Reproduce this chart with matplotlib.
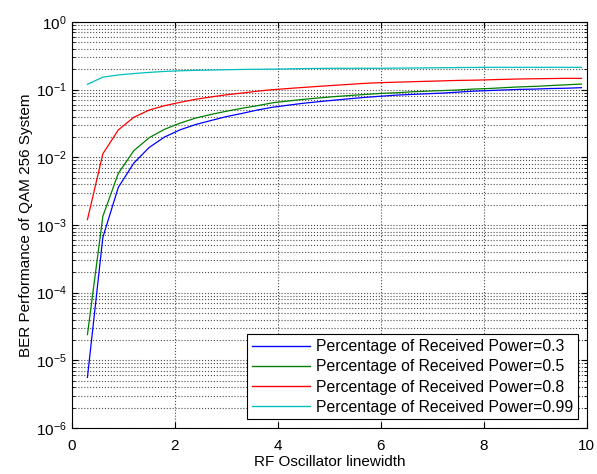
import numpy as np
import matplotlib.pyplot as plt
from matplotlib.ticker import LogLocator, FixedLocator, NullFormatter

plt.rcParams['font.family'] = ['Liberation Sans', 'DejaVu Sans']
plt.rcParams['mathtext.fontset'] = 'custom'
plt.rcParams['mathtext.rm'] = 'Liberation Sans'

# RF oscillator linewidth
linewidth = [0.3, 0.6, 0.9, 1.2, 1.5, 1.8, 2.1, 2.4, 2.7, 3.0, 3.3,
             3.6, 3.9, 4.2, 4.5, 4.8, 5.1, 5.4, 5.7, 6.0, 6.3, 6.6,
             6.9, 7.2, 7.5, 7.8, 8.1, 8.4, 8.7, 9.0, 9.3, 9.6, 9.9]

ber_03 = [5.6e-6, 6.6e-4, 3.6e-3, 8.2e-3, 0.0140, 0.0200, 0.0255, 0.0305, 0.035, 0.040, 0.0445,
          0.050, 0.055, 0.059, 0.063, 0.0665, 0.070, 0.0735, 0.077, 0.080, 0.083, 0.085,
          0.087, 0.089, 0.092, 0.095, 0.097, 0.099, 0.101, 0.102, 0.104, 0.105, 0.107]
ber_05 = [2.4e-5, 1.35e-3, 5.8e-3, 0.0125, 0.0195, 0.026, 0.032, 0.038, 0.043, 0.048, 0.053,
          0.058, 0.064, 0.068, 0.072, 0.0755, 0.079, 0.082, 0.085, 0.088, 0.090, 0.093,
          0.095, 0.097, 0.099, 0.102, 0.104, 0.107, 0.110, 0.112, 0.115, 0.118, 0.121]
ber_08 = [1.2e-3, 0.0113, 0.0254, 0.039, 0.050, 0.058, 0.065, 0.072, 0.078, 0.084, 0.089,
          0.095, 0.100, 0.104, 0.108, 0.112, 0.116, 0.120, 0.124, 0.127, 0.129, 0.131,
          0.133, 0.135, 0.137, 0.138, 0.140, 0.142, 0.144, 0.145, 0.146, 0.147, 0.147]
ber_099 = [0.120, 0.153, 0.165, 0.173, 0.180, 0.186, 0.190, 0.193, 0.195, 0.197, 0.199,
           0.200, 0.201, 0.203, 0.205, 0.206, 0.207, 0.207, 0.207, 0.207, 0.208, 0.209,
           0.210, 0.211, 0.212, 0.213, 0.214, 0.214, 0.214, 0.214, 0.214, 0.214, 0.214]

labels = ['Percentage of Received Power=0.3', 'Percentage of Received Power=0.5',
          'Percentage of Received Power=0.8', 'Percentage of Received Power=0.99']
colors = ['#0000ff', '#008000', '#ff0000', '#00bfbf']
x_ticks = [0, 2, 4, 6, 8, 10]
y_ticks = [1e-6, 1e-5, 1e-4, 1e-3, 1e-2, 1e-1, 1e0]

fig = plt.figure(figsize=(5.97, 4.74), dpi=100)
ax = fig.add_axes([0.1206, 0.097, 0.862, 0.8566])

for ys, c, lab in zip([ber_03, ber_05, ber_08, ber_099], colors, labels):
    ax.semilogy(linewidth, ys, color=c, lw=0.9, label=lab)

ax.set_xlim(0, 10)
ax.set_ylim(1e-6, 1)
ax.xaxis.set_major_locator(FixedLocator(x_ticks))
ax.yaxis.set_major_locator(FixedLocator(y_ticks))
ax.yaxis.set_minor_locator(LogLocator(base=10, subs=np.arange(2, 10), numticks=20))
ax.yaxis.set_minor_formatter(NullFormatter())

ax.grid(True, which='major', axis='both', ls=':', color='0.3', lw=0.8)
ax.grid(True, which='minor', axis='y', ls=':', color='0.3', lw=0.8)

ax.tick_params(which='both', direction='in', top=True, right=True, labelsize=11)
ax.tick_params(which='major', length=4)
ax.tick_params(which='minor', length=2)
ax.tick_params(axis='x', pad=8)
ax.tick_params(axis='y', pad=4)
for s in ax.spines.values():
    s.set_linewidth(0.8)

ax.set_xlabel('RF Oscillator linewidth', fontsize=11, labelpad=1)
ax.set_ylabel('BER Performance of QAM 256 System', fontsize=11, labelpad=2)

leg = ax.legend(loc='lower right', fontsize=11.3, handlelength=3.7, fancybox=False,
                framealpha=1, edgecolor='k', borderaxespad=0.55, labelspacing=0.33,
                handletextpad=0.4, borderpad=0.3)
leg.get_frame().set_linewidth(0.8)
for line in leg.get_lines():
    line.set_linewidth(1.0)

fig.savefig('out.png', dpi=100)
